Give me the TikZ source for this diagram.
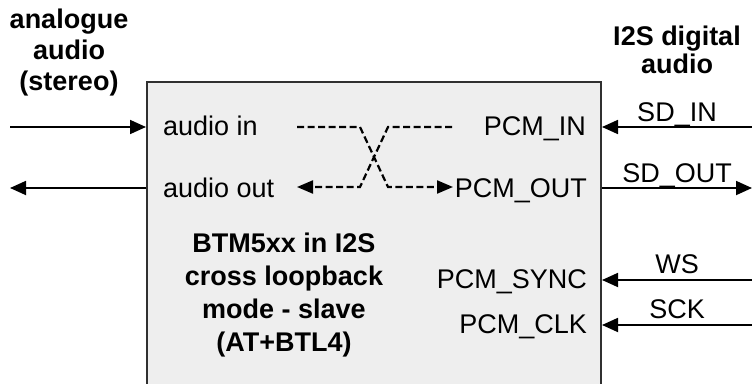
\documentclass[tikz,border=0pt]{standalone}
\usepackage{fontspec}
\setmainfont{Liberation Sans}
\usetikzlibrary{arrows.meta}
\definecolor{boxfill}{HTML}{EEEEEE}
\definecolor{boxline}{HTML}{303030}
\begin{document}
\begin{tikzpicture}[x=1pt,y=-1pt,
  txt/.style={inner sep=0pt,font=\fontsize{27}{31}\selectfont},
  btxt/.style={inner sep=0pt,font=\fontsize{27}{31}\selectfont\bfseries},
  sig/.style={line width=1.8pt,-{Triangle[length=16pt,width=14pt]}},
  loopline/.style={line width=2.2pt,dash pattern=on 7pt off 3.5pt,-{Triangle[length=16pt,width=13pt]}},
  chip/.style={draw=boxline,fill=boxfill,line width=2pt,minimum width=454pt,minimum height=318pt,inner sep=0pt}]
\useasboundingbox (0,0) rectangle (752,383);
\clip (0,0) rectangle (752,383);
% main box
\node[chip] (box) at (374,241) {};
% titles
\node[btxt,anchor=base] (t1) at (69,28) {analogue};
\node[btxt,anchor=base] (t2) at (69,59) {audio};
\node[btxt,anchor=base] (t3) at (69,90) {(stereo)};
\node[btxt,anchor=base] (r1) at (677,45) {I2S digital};
\node[btxt,anchor=base] (r2) at (677,73) {audio};
% box title
\node[btxt,anchor=base] (b1) at (284,252) {BTM5xx in I2S};
\node[btxt,anchor=base] (b2) at (284,285) {cross loopback};
\node[btxt,anchor=base] (b3) at (284,318) {mode - slave};
\node[btxt,anchor=base] (b4) at (284,351) {(AT+BTL4)};
% port labels
\node[txt,anchor=base west] (ain) at (163,135) {audio in};
\node[txt,anchor=base west] (aout) at (163,197) {audio out};
\node[txt,anchor=base east] (pin) at (586,135) {PCM\_IN};
\node[txt,anchor=base east] (pout) at (587,197) {PCM\_OUT};
\node[txt,anchor=base east] (psync) at (587,288) {PCM\_SYNC};
\node[txt,anchor=base east] (pclk) at (587,333) {PCM\_CLK};
% external labels
\node[txt,anchor=base] (lsdin) at (677,121) {SD\_IN};
\node[txt,anchor=base] (lsdout) at (677,182) {SD\_OUT};
\node[txt,anchor=base] (lws) at (677,273) {WS};
\node[txt,anchor=base] (lsck) at (677,318) {SCK};
% coordinates
\coordinate (inL) at (10,127);
\coordinate (outL) at (10,188);
\coordinate (sdinR) at (752,127);
\coordinate (sdoutR) at (752,188);
\coordinate (wsR) at (752,280);
\coordinate (sckR) at (752,325);
% external arrows
\draw[sig] (inL) -- (inL -| box.west);
\draw[sig] (outL -| box.west) -- (outL);
\draw[sig] (sdinR) -- (sdinR -| box.east);
\draw[sig] (sdoutR -| box.east) -- (sdoutR);
\draw[sig] (wsR) -- (wsR -| box.east);
\draw[sig] (sckR) -- (sckR -| box.east);
% cross loopback
\coordinate (a1) at (297,127);
\coordinate (a2) at (360,127);
\coordinate (a3) at (388,187);
\coordinate (a4) at (453,187);
\coordinate (c1) at (452,127);
\coordinate (c2) at (388,127);
\coordinate (c3) at (360,187);
\coordinate (c4) at (297,187);
\draw[loopline] (a1) -- (a2) -- (a3) -- (a4);
\draw[loopline] (c1) -- (c2) -- (c3) -- (c4);
\end{tikzpicture}
\end{document}
